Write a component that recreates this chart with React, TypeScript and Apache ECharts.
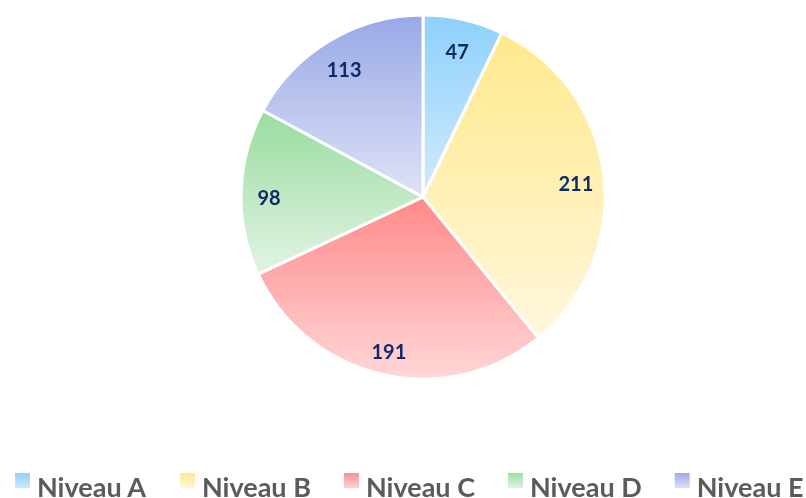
import React, { useEffect, useRef } from "react";
import * as echarts from "echarts";

const categories = ["Niveau A", "Niveau B", "Niveau C", "Niveau D", "Niveau E"];
const values = [47, 211, 191, 98, 113];
const topColors = ["#8dd1fc", "#ffe98c", "#ff8a8a", "#98dd9f", "#98a8e6"];
const bottomColors = ["#d2eafc", "#fff7dd", "#ffd6d6", "#e2f3e4", "#dfe3f6"];

function grad(i: number) {
  return new echarts.graphic.LinearGradient(0, 0, 0, 1, [
    { offset: 0, color: topColors[i] },
    { offset: 1, color: bottomColors[i] },
  ]);
}

export default function App() {
  const ref = useRef<HTMLDivElement>(null);
  useEffect(() => {
    if (!ref.current) return;
    const chart = echarts.init(ref.current, null, { renderer: "svg" });
    const data = categories.map((name, i) => ({
      name,
      value: values[i],
      itemStyle: { color: grad(i) },
    }));
    chart.setOption({
      animation: false,
      legend: {
        data: categories,
        left: 13,
        top: 471,
        width: 1000,
        padding: 0,
        itemWidth: 17,
        itemHeight: 17,
        itemGap: 31,
        icon: "rect",
        formatter: "{t|{name}}",
        textStyle: {
          fontFamily: "Lato",
          fontWeight: "bold",
          fontSize: 27,
          color: "#5b5b5b",
          rich: {
            t: {
              fontFamily: "Lato",
              fontWeight: "bold",
              fontSize: 27,
              color: "#5b5b5b",
              padding: [11, 0, 0, 1],
            },
          },
        },
      },
      series: [
        {
          type: "pie",
          center: [423, 197],
          radius: [0, 182],
          startAngle: 90,
          clockwise: true,
          label: { show: false },
          labelLine: { show: false },
          itemStyle: { borderColor: "#ffffff", borderWidth: 3 },
          emphasis: { disabled: true },
          data,
        },
        {
          type: "pie",
          center: [423, 197],
          radius: [120, 182],
          startAngle: 90,
          clockwise: true,
          silent: true,
          legendHoverLink: false,
          itemStyle: { color: "rgba(0,0,0,0)", borderWidth: 0 },
          label: {
            show: true,
            position: "inside",
            formatter: "{c}",
            fontFamily: "Lato",
            fontWeight: "bold",
            fontSize: 20,
            color: "#0f2a66",
            offset: [0, 4],
          },
          labelLine: { show: false },
          emphasis: { disabled: true },
          data: categories.map((name, i) => ({ name: name + " ", value: values[i] })),
        },
      ],
    });
    return () => chart.dispose();
  }, []);
  return (
    <div
      ref={ref}
      style={{ position: "fixed", left: 0, top: 0, width: 806, height: 498 }}
    />
  );
}
